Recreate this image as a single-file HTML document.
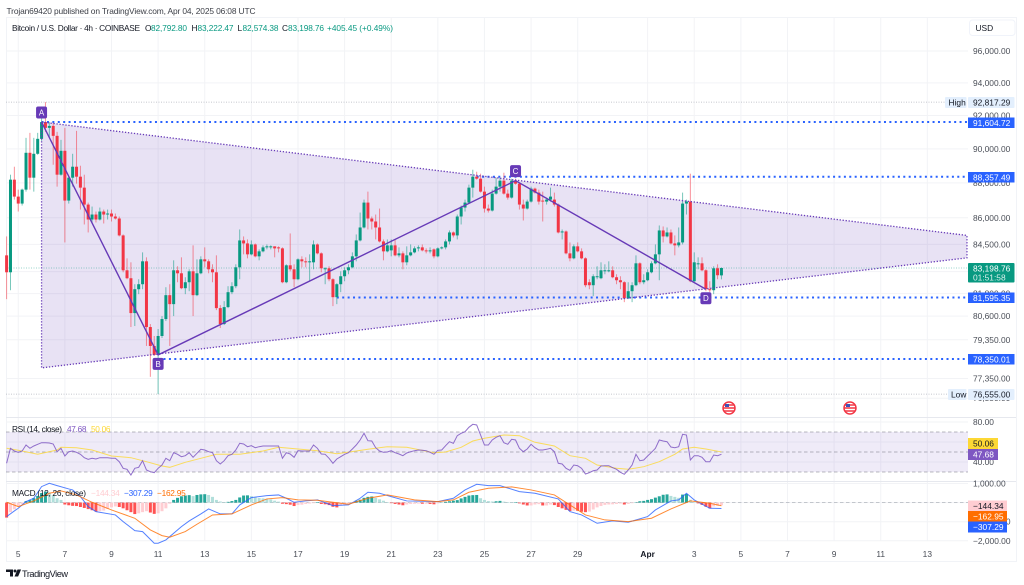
<!DOCTYPE html>
<html lang="en">
<head>
<meta charset="utf-8">
<title>Bitcoin / U.S. Dollar 4h chart</title>
<style>
html,body{margin:0;padding:0;background:#fff;width:1024px;height:585px;overflow:hidden}
svg{display:block;font-family:"Liberation Sans",sans-serif;filter:blur(0.3px)}
text{font-family:"Liberation Sans",sans-serif}
</style>
</head>
<body>
<svg id="chart" xmlns="http://www.w3.org/2000/svg" width="1024" height="585" viewBox="0 0 1024 585">
  <rect width="1024" height="585" fill="#ffffff"/>
  <rect x="6.5" y="17.5" width="1010" height="544" fill="none" stroke="#f1f3f7"/>
  <g id="grid"></g>
  <rect x="6" y="432" width="962" height="40" fill="#7e57c2" fill-opacity="0.12"/>
  <g id="pattern-fill"></g>
  <g id="levels"></g>
  <g id="candles"></g>
  <g id="pattern-lines"></g>
  <g id="rsi"></g>
  <g id="macd"></g>
  <g id="axis"></g>

  <g>
    <circle cx="729" cy="408" r="6" fill="#fff" stroke="#f23645" stroke-width="1.5"/>
    <path d="M724 405h10M723.5 408h11M724 411h10" stroke="#f23645" stroke-width="1.4"/>
    <rect x="725" y="404" width="4" height="3" fill="#3f51b5"/>
  </g>
  <g>
    <circle cx="850" cy="408" r="6" fill="#fff" stroke="#f23645" stroke-width="1.5"/>
    <path d="M845 405h10M844.5 408h11M845 411h10" stroke="#f23645" stroke-width="1.4"/>
    <rect x="846" y="404" width="4" height="3" fill="#3f51b5"/>
  </g>

  <text x="6.5" y="14" font-size="8.4" fill="#3c3f47" textLength="249" lengthAdjust="spacing">Trojan69420 published on TradingView.com, Apr 04, 2025 06:08 UTC</text>
  <g font-size="8.3" fill="#131722">
    <text x="12" y="31" textLength="128" lengthAdjust="spacing">Bitcoin / U.S. Dollar · 4h · COINBASE</text>
    <text x="145" y="31">O</text>
    <text x="151" y="31" fill="#089981" textLength="36">82,792.80</text>
    <text x="191.5" y="31">H</text>
    <text x="197.5" y="31" fill="#089981" textLength="36">83,222.47</text>
    <text x="237.5" y="31">L</text>
    <text x="242.5" y="31" fill="#089981" textLength="36">82,574.38</text>
    <text x="282" y="31">C</text>
    <text x="288" y="31" fill="#089981" textLength="36">83,198.76</text>
    <text x="327" y="31" fill="#089981" textLength="66">+405.45 (+0.49%)</text>
  </g>
  <g font-size="8.3">
    <text x="12" y="432" fill="#131722" textLength="50">RSI (14, close)</text>
    <text x="67" y="432" fill="#7e57c2" textLength="19.5">47.68</text>
    <text x="91" y="432" fill="#fdd835" textLength="19.5">50.06</text>
  </g>
  <g font-size="8.3">
    <text x="12" y="496" fill="#131722" textLength="74">MACD (12, 26, close)</text>
    <text x="91" y="496" fill="#ffcdd2" textLength="28.7">−144.34</text>
    <text x="124" y="496" fill="#2962ff" textLength="28.7">−307.29</text>
    <text x="157" y="496" fill="#ff6d00" textLength="28.7">−162.95</text>
  </g>

  <g>
    <rect x="969.5" y="20" width="45.5" height="15.5" rx="3" fill="#fff" stroke="#f0f3fa"/>
    <text x="975.5" y="31" font-size="8.4" fill="#131722">USD</text>
  </g>

  <g id="price-labels" font-size="8.4">
    <g>
      <rect x="945" y="97" width="21.5" height="11" rx="1" fill="#e3effd"/>
      <text x="948.5" y="105.5" fill="#131722">High</text>
      <rect x="968" y="97" width="46.5" height="11" rx="1" fill="#e3effd"/>
      <text x="973" y="105.5" fill="#131722">92,817.29</text>
    </g>
    <g>
      <rect x="968" y="117.5" width="46.5" height="10.5" fill="#2962ff"/>
      <text x="973" y="126" fill="#ffffff">91,604.72</text>
    </g>
    <g>
      <rect x="968" y="172" width="46.5" height="10.5" fill="#2962ff"/>
      <text x="973" y="180.5" fill="#ffffff">88,357.49</text>
    </g>
    <g>
      <rect x="968" y="263" width="46.5" height="19.5" rx="1" fill="#089981"/>
      <text x="973" y="271.5" fill="#ffffff">83,198.76</text>
      <text x="973" y="280.5" fill="#ffffff" fill-opacity="0.85">01:51:58</text>
    </g>
    <g>
      <rect x="968" y="292.5" width="46.5" height="10.5" fill="#2962ff"/>
      <text x="973" y="301" fill="#ffffff">81,595.35</text>
    </g>
    <g>
      <rect x="968" y="354" width="46.5" height="10.5" fill="#2962ff"/>
      <text x="973" y="362.5" fill="#ffffff">78,350.01</text>
    </g>
    <g>
      <rect x="948" y="389" width="18.5" height="11" rx="1" fill="#e3effd"/>
      <text x="951" y="397.5" fill="#131722">Low</text>
      <rect x="968" y="389" width="46.5" height="11" rx="1" fill="#e3effd"/>
      <text x="973" y="397.5" fill="#131722">76,555.00</text>
    </g>
    <g>
      <rect x="968" y="438" width="30" height="11" fill="#fdd835"/>
      <text x="973" y="446.5" fill="#131722">50.06</text>
    </g>
    <g>
      <rect x="968" y="449" width="30" height="11" fill="#7e57c2"/>
      <text x="973" y="457.5" fill="#ffffff">47.68</text>
    </g>
    <g>
      <rect x="968" y="500.5" width="39" height="10.5" fill="#ffcdd2"/>
      <text x="973" y="509" fill="#131722">−144.34</text>
    </g>
    <g>
      <rect x="968" y="511" width="39" height="10.5" fill="#ff6d00"/>
      <text x="973" y="519.5" fill="#ffffff">−162.95</text>
    </g>
    <g>
      <rect x="968" y="521.5" width="39" height="11" fill="#2962ff"/>
      <text x="973" y="530" fill="#ffffff">−307.29</text>
    </g>
  </g>

  <g>
    <path d="M6 569.5h7v7h-3v-4.5H6zM17.5 569.5h3.6l-3 7h-3.6z" fill="#131722"/>
    <circle cx="15" cy="571" r="1.5" fill="#131722"/>
    <text x="22" y="577" font-size="9.2" fill="#131722" textLength="46" lengthAdjust="spacing">TradingView</text>
  </g>
</svg>

<script>
const candleStepPx = 3.885;
const candleStartPx = 6.6;

const opens = [
83894,82962,88188,87209,86809,87611,89766,88304,89707,90596,
91604,91253,91373,90775,88479,89884,86980,88304,88945,88362,
87726,86752,85901,86184,85901,86354,86184,86241,86071,85958,
85004,83071,82637,80759,82041,82311,83564,80019,79027,78561,
79548,80441,81719,81237,83071,82907,82095,82419,83016,81719,
82907,83674,83564,83126,82962,81024,80177,81078,81880,82203,
83236,84724,84556,83949,84500,83839,84115,84337,84337,84393,
84337,84281,82419,83345,83126,82582,83674,83564,83509,83509,
84500,84004,83181,83181,82582,81611,82311,82745,83071,83236,
83839,84724,85451,86865,85958,85789,85451,84668,84115,84170,
84449,83894,84004,83509,83894,84059,84281,84337,84170,84115,
84225,83839,84281,84337,84668,85171,85004,86071,86581,86865,
87726,88362,88246,87496,86524,86410,87381,87784,88130,87381,
87152,88130,87957,86752,86524,86923,87669,87439,86980,86923,
87037,87037,86752,85171,85227,84004,83729,84393,84115,83729,
82419,82257,82745,82637,83071,83071,83071,82691,82528,82419,
81558,81933,82257,83454,82419,82528,82962,83454,83949,85283,
84948,85171,84556,84449,84612,86809,86923,82473,83454,83454,
83071,82041,81987,83181,82792.80];

const highs = [
84948,88479,88945,87611,87669,90655,90954,90655,90954,91915,
92817.29,91613,91553,91014,90536,91253,88362,89707,91073,89003,
88479,86865,86638,86354,86581,86467,86467,86467,86241,86071,
85059,83729,83509,82311,82582,84059,83784,80177,79548,79914,
80600,82149,82311,83619,83290,83784,82691,83126,84449,83674,
83839,84337,83674,83400,83894,81184,81397,82203,82419,83400,
85339,84948,84780,84724,84556,84225,84449,84500,84449,84393,
84393,84337,83400,85115,83400,83729,83839,83784,83949,84724,
84556,84059,83236,83290,82637,82365,83016,83236,83400,84059,
85059,86297,87037,87496,86071,86184,86524,84780,84780,84780,
84780,84337,84115,84393,84500,84393,84449,84500,84281,84337,
84281,84337,84393,84780,85283,85227,86184,86695,87037,87900,
88769,88652,88537,87784,86752,87611,88304,88304,88594,87611,
88246,88246,88014,87037,87037,87784,87726,87611,87496,87152,
87726,87439,86809,85339,85283,84612,84500,84612,84281,83784,
82582,82854,83290,83509,83400,83564,83290,82854,82745,82473,
82419,82419,83894,83509,82854,83126,83564,84500,85564,85508,
85451,85339,85004,85451,87439,87037,88537,84059,83784,83784,
83126,82473,83290,83400,83222.47];

const lows = [
81504,81987,87037,86354,86695,87496,87611,87496,89648,90477,
91014,90715,89061,87784,88420,84612,86809,87784,87957,86467,
85620,85171,85732,85732,85845,85676,85901,85789,85901,84948,
82962,82582,80019,80072,81773,82041,79027,77434,78510,76555,
79443,80335,79027,80600,82419,82041,81773,81933,80600,81665,
82854,83236,82907,82419,80918,79967,80124,81024,81773,82095,
82582,83949,83729,83894,83784,83619,84059,84225,84225,83784,
84059,82365,82365,83016,82149,82528,83236,83236,82473,83126,
83949,82962,82311,82473,81131,81237,81880,82473,82854,83181,
83564,84668,85395,85339,85339,84780,84612,83619,84059,83839,
83839,83784,83126,83345,83839,84004,84115,84115,84004,84004,
83729,83784,84225,84225,84500,84892,84780,85620,86354,86809,
87152,88188,87439,86297,86297,86354,87324,87496,87324,87037,
87094,87900,86467,85845,86467,86865,87381,86752,85789,86752,
86923,86638,85115,84780,83949,83564,83674,84059,83674,82149,
82041,81665,82582,82582,82854,82962,82637,82311,82041,81344,
81504,81344,82203,82311,82311,82473,82907,83400,82528,84612,
84892,84500,83894,84337,84500,86184,82419,82419,83126,83016,
81933,81880,81773,82582,82574.38];

const closes = [
82962,88188,87209,86809,87611,89766,88304,89707,90596,91604,
91253,91373,90775,88479,89884,86980,88304,88945,88362,87726,
86752,85901,86184,85901,86354,86184,86241,86071,85958,85004,
83071,82637,80759,82041,82311,83564,80019,79027,78561,79548,
80441,81719,81237,83071,82907,82095,82419,83016,81719,82907,
83674,83564,83126,82962,81024,80177,81078,81880,82203,83236,
84724,84556,83949,84500,83839,84115,84337,84393,84393,84281,
84281,82419,83345,83126,82582,83674,83564,83509,83564,84500,
84004,83181,83181,82582,81611,82311,82745,83071,83236,83839,
84724,85451,86865,85958,85789,85451,84668,84115,84449,84449,
83894,84004,83509,83894,84059,84281,84337,84170,84115,84170,
83839,84281,84337,84668,85171,85004,86071,86581,86865,87726,
88362,88246,87496,86524,86410,87381,87784,88130,87381,87152,
88130,87957,86752,86524,86923,87669,87439,86923,86923,87037,
87209,86752,85171,85227,84004,83729,84393,84115,83729,82257,
82257,82745,82745,83071,83071,83071,82691,82528,82419,81558,
81933,82257,83454,82419,82528,82962,83454,83949,85283,84948,
85171,84556,84449,84612,86809,86923,82473,83509,83454,83071,
82041,81987,83181,82800,83198.76];

const rsiValues = [
38.7,53.7,51,49.7,51,57,53.7,56,57.7,59.3,
59.3,59,58,50.3,53.7,46,50.3,51,49.7,47.7,
44.3,42.7,43.7,43,44.3,44.3,44.3,43.7,43.7,40.3,
33.7,32.7,27,33.7,34.7,41.3,32,30.3,29.3,33.7,
37,43.7,41.3,49.3,47.7,45.3,46.3,49.3,44.7,48.7,
52.7,52,50.3,49.3,41.3,38,41.3,46.3,47.7,52,
58.7,58,55.3,56.3,54.3,55.3,56,56,56,56,
56,43.7,49.3,48,44.7,51.3,51,51,51,57,
53.7,48,47.7,43.7,38.7,43,45.3,47.7,49.3,53,
57,62,68.7,61.3,61,54.3,51,49.7,50,51.3,
49.3,48,46.3,49,50.3,51.3,52,51.7,51.3,49.7,
47.7,51.7,52,56.3,60.3,58.7,66.3,68.7,70.3,74.7,
77.7,77,67,57,57,62,64.7,66.3,59.3,57.7,
62.7,62,53.7,50.3,53,57.7,54.3,52,52,52.7,
53.7,50.3,38.7,38,33.7,31.7,37,36.3,33.7,28,
29.3,31.3,32,36,36.3,36.3,34.3,32.7,29.7,27.7,
32,37,47.7,41.3,42,46,49.7,53.7,62,61,
60.3,55,54.3,55.3,67.7,67,42,46.3,46.3,44.7,
40.3,40.3,47,46.3,47.68];

const rsiMaCandle = [0,3,8,13,14,18,22,27,32,36,40,42,46,50,54,60,66,70,75,80,85,90,93,98,103,110,113,117,120,123,128,132,136,141,145,149,152,157,160,164,168,172,174,177,180,184];
const rsiMaValues = [53.7,51.7,47.7,52,54.7,54.3,52,46,44.3,40.3,36,34.7,39.7,43.7,47.7,47.7,51,54.7,53,51.3,48.3,51,52.7,55.3,54.7,49.3,50,54.7,61,63.7,67,66.3,59.7,56,46.3,43.7,37,33.7,32.7,35.3,40.3,47.7,53,54.7,53,50.06];

const macdCandle = [0,2,3,5,7,9,11,13,16,17,19,21,23,28,30,33,35,38,39,41,45,47,50,52,55,58,60,63,67,70,72,74,77,80,84,88,91,93,96,99,103,111,115,118,121,124,127,132,136,142,145,148,152,156,160,165,167,171,173,175,177,181,184];
const macdValues = [-733,-436,-297,52,227,838,1012,890,715,663,314,-209,-471,-646,-995,-1466,-1518,-2129,-2129,-1954,-1256,-960,-593,-332,-593,-593,-122,262,366,401,227,17,87,140,-157,-122,227,541,489,314,87,52,227,663,960,890,890,576,489,192,-471,-646,-1082,-960,-1030,-733,-384,87,140,489,140,-297,-307.29];

const signalCandle = [0,3,7,11,14,18,22,27,33,37,40,42,46,49,53,58,63,67,71,75,80,84,88,93,98,105,111,115,119,124,130,135,141,145,149,154,160,166,171,176,181,184];
const signalValues = [17,-209,87,489,611,401,17,-384,-820,-1431,-1728,-1815,-1518,-1134,-646,-593,-122,192,262,140,122,17,-87,227,401,140,52,140,541,750,820,663,401,-122,-646,-907,-995,-820,-332,87,-35,-162.95];

const histValues = [
-785,-500,-350,-200,-80,80,130,230,350,500,
570,530,400,230,140,-100,-140,-170,-180,-230,
-280,-340,-400,-470,-450,-420,-330,-250,-200,-230,
-300,-400,-500,-600,-560,-500,-450,-520,-590,-560,
-450,-300,-60,140,250,330,370,390,340,400,
430,440,400,300,140,60,30,40,80,140,
270,370,380,340,280,240,220,200,170,100,
50,-60,-80,-110,-180,-130,-110,-70,-50,-30,
30,-70,-90,-130,-220,-250,-150,-110,-60,-30,
100,150,250,300,320,250,170,100,30,-30,
-70,-100,-140,-100,-70,-60,-50,-60,-60,-70,
-90,-40,10,40,70,100,130,220,300,370,
390,400,230,140,80,60,70,90,50,30,
20,25,-40,-100,-150,-150,-100,-80,-150,-150,
-100,-130,-230,-300,-380,-440,-420,-430,-480,-500,
-470,-360,-250,-180,-120,-100,-90,-70,-50,-100,
-70,-30,20,70,90,140,180,260,330,410,
430,350,300,250,420,450,150,30,-40,-120,
-220,-300,-200,-170,-144.34];

const priceTicks = [96000,94000,92000,90000,88000,86000,84500,83000,81800,80600,79350,77350,76350];
const rsiTicks = [80,60,40];
const macdTicks = [1000,0,-1000,-2000];
const timeTickCandle = [3,15,27,39,51,63,75,87,99,111,123,135,147,165,177,189,201,213,225,237];
const timeTickLabels = ["5","7","9","11","13","15","17","19","21","23","25","27","29","Apr","3","5","7","9","11","13"];

const patternCandle = [9,39,131,180];
const patternPrices = [91604.72,78561,88130,82041];
const patternNames = ["A","B","C","D"];
const triangleCandle = [9,247.2,247.2,9];
const trianglePrices = [91604.72,85004,83756,77893];
const levelPrices = [91604.72,88357.49,81595.35,78350.01];
const levelStartCandle = [9,121,85,39];
const highPrice = 92817.29;
const lowPrice = 76555;
const lastPrice = 83198.76;

const NS = "http://www.w3.org/2000/svg";
const AXIS_FONT = 8.4;
function make(tag, attrs, parent) {
  const node = document.createElementNS(NS, tag);
  for (const k in attrs) node.setAttribute(k, attrs[k]);
  parent.appendChild(node);
  return node;
}
function xAt(i) { return candleStartPx + candleStepPx * i; }
function yPrice(p) { return 51 + 1516 * Math.log(96000 / p); }
function yRsi(v) { return 502 - v; }
function yMacd(v) { return 502.6 - 0.0191 * v; }
function fmt(v) {
  const s = Math.abs(v).toLocaleString("en-US", {minimumFractionDigits: 2, maximumFractionDigits: 2});
  return (v < 0 ? "\u2212" : "") + s;
}

const grid = document.getElementById("grid");
const axis = document.getElementById("axis");
const PLOT_R = 968;

timeTickCandle.forEach(function (c, idx) {
  const x = xAt(c);
  const gl = make("line", {x1: x, x2: x, y1: 17, y2: 541, stroke: "#f2f3f6", "stroke-width": 1}, grid);
  
  
  const lbl = make("text", {x: x, y: 557, "font-size": AXIS_FONT, "text-anchor": "middle", fill: timeTickLabels[idx] === "Apr" ? "#131722" : "#4a4e57", "font-weight": timeTickLabels[idx] === "Apr" ? "bold" : "normal"}, axis);
  
  
  lbl.textContent = timeTickLabels[idx];
});

priceTicks.forEach(function (p) {
  const y = yPrice(p);
  const gl = make("line", {x1: 6, x2: PLOT_R, y1: y, y2: y, stroke: "#f2f3f6", "stroke-width": 1}, grid);
  
  
  const lbl = make("text", {x: 973, y: y + 3, "font-size": AXIS_FONT, fill: "#4a4e57"}, axis);
  
  
  lbl.textContent = fmt(p);
});
rsiTicks.forEach(function (v) {
  const y = yRsi(v);
  const gl = make("line", {x1: 6, x2: PLOT_R, y1: y, y2: y, stroke: "#f2f3f6", "stroke-width": 1}, grid);
  
  
  const lbl = make("text", {x: 973, y: y + 3, "font-size": AXIS_FONT, fill: "#4a4e57"}, axis);
  
  
  lbl.textContent = fmt(v);
});
macdTicks.forEach(function (v) {
  const y = yMacd(v);
  const gl = make("line", {x1: 6, x2: PLOT_R, y1: y, y2: y, stroke: "#f2f3f6", "stroke-width": 1}, grid);
  
  
  if (v !== 0) {
    const lbl = make("text", {x: 973, y: y + 3, "font-size": AXIS_FONT, fill: "#4a4e57"}, axis);
    
    
    lbl.textContent = fmt(v);
  }
});
[417.5, 481.5].forEach(function (y) {
  const sep = make("line", {x1: 6, x2: 1016, y1: y, y2: y, stroke: "#e6e8ee", "stroke-width": 1}, grid);
  
  
});

/* pattern fill */
const fillLayer = document.getElementById("pattern-fill");
const tri = make("polygon", {
  points: triangleCandle.map(function (c, k) { return xAt(c) + "," + yPrice(trianglePrices[k]); }).join(" "),
  fill: "#673ab7", "fill-opacity": 0.15
}, fillLayer);



/* level lines */
const levels = document.getElementById("levels");
const hi = make("line", {x1: 6, x2: 945, y1: yPrice(highPrice), y2: yPrice(highPrice), stroke: "#b2b5be", "stroke-width": 0.8, "stroke-dasharray": "1 1.5"}, levels);


const lo = make("line", {x1: 6, x2: 948, y1: yPrice(lowPrice), y2: yPrice(lowPrice), stroke: "#b2b5be", "stroke-width": 0.8, "stroke-dasharray": "1 1.5"}, levels);


const lastLine = make("line", {x1: 6, x2: PLOT_R, y1: yPrice(lastPrice), y2: yPrice(lastPrice), stroke: "#089981", "stroke-opacity": 0.55, "stroke-width": 0.8, "stroke-dasharray": "1 1.5"}, levels);


levelPrices.forEach(function (p, k) {
  const y = yPrice(p);
  const l = make("line", {x1: xAt(levelStartCandle[k]), x2: PLOT_R, y1: y, y2: y, stroke: "#2962ff", "stroke-width": 2, "stroke-dasharray": "2 3.4"}, levels);
  
  
});

/* candles */
const candleLayer = document.getElementById("candles");
closes.forEach(function (c, i) {
  const o = opens[i];
  const up = c >= o;
  const color = up ? "#089981" : "#f23645";
  const x = xAt(i);
  const g = make("g", {}, candleLayer);
  
  
  const wick = make("line", {x1: x, x2: x, y1: yPrice(highs[i]), y2: yPrice(lows[i]), stroke: color, "stroke-opacity": 0.55, "stroke-width": 1}, g);
  
  
  const top = Math.min(yPrice(o), yPrice(c));
  const h = Math.max(1, Math.abs(yPrice(o) - yPrice(c)));
  const body = make("rect", {x: x - 1.5, y: top, width: 3, height: h, fill: color}, g);
  
  
});

/* pattern lines */
const patLayer = document.getElementById("pattern-lines");
const edge = make("polygon", {
  points: triangleCandle.map(function (c, k) { return xAt(c) + "," + yPrice(trianglePrices[k]); }).join(" "),
  fill: "none", stroke: "#673ab7", "stroke-width": 1.3, "stroke-dasharray": "1.3 1.7"
}, patLayer);


const abcd = make("polyline", {
  points: patternCandle.map(function (c, k) { return xAt(c) + "," + yPrice(patternPrices[k]); }).join(" "),
  fill: "none", stroke: "#673ab7", "stroke-width": 1.4
}, patLayer);


patternCandle.forEach(function (c, k) {
  const x = xAt(c);
  const below = k % 2 === 1;
  const y = yPrice(patternPrices[k]) + (below ? 9 : -9.5);
  const g = make("g", {}, patLayer);
  
  
  const r = make("rect", {x: x - 5.5, y: y - 6, width: 11, height: 12, rx: 2, fill: "#673ab7"}, g);
  
  
  const t = make("text", {x: x, y: y + 3, "font-size": 8, "text-anchor": "middle", fill: "#ffffff"}, g);
  
  
  t.textContent = patternNames[k];
});

/* RSI */
const rsiLayer = document.getElementById("rsi");
[70, 50, 30].forEach(function (v) {
  const l = make("line", {x1: 6, x2: PLOT_R, y1: yRsi(v), y2: yRsi(v), stroke: "#787b86", "stroke-opacity": 0.7, "stroke-width": 0.8, "stroke-dasharray": "3.5 2.5"}, rsiLayer);
  
  
});
const rsiMa = make("polyline", {
  points: rsiMaCandle.map(function (c, k) { return xAt(c) + "," + yRsi(rsiMaValues[k]); }).join(" "),
  fill: "none", stroke: "#fdd835", "stroke-opacity": 0.8, "stroke-width": 1
}, rsiLayer);


const rsiLine = make("polyline", {
  points: rsiValues.map(function (v, i) { return xAt(i) + "," + yRsi(v); }).join(" "),
  fill: "none", stroke: "#7e57c2", "stroke-opacity": 0.85, "stroke-width": 1
}, rsiLayer);



/* MACD */
const macdLayer = document.getElementById("macd");
const zeroLine = make("line", {x1: 6, x2: PLOT_R, y1: yMacd(0), y2: yMacd(0), stroke: "#b2b5be", "stroke-width": 0.8, "stroke-dasharray": "3.5 2.5"}, macdLayer);


histValues.forEach(function (v, i) {
  const prev = i > 0 ? histValues[i - 1] : 0;
  let color;
  if (v >= 0) { color = v > prev ? "#26a69a" : "#b2dfdb"; }
  else { color = v < prev ? "#ff5252" : "#ffcdd2"; }
  const y0 = yMacd(0), y1 = yMacd(v);
  const bar = make("rect", {x: xAt(i) - 1.5, y: Math.min(y0, y1), width: 3, height: Math.abs(y1 - y0), fill: color}, macdLayer);
  
  
});
const macdLine = make("polyline", {
  points: macdCandle.map(function (c, k) { return xAt(c) + "," + yMacd(macdValues[k]); }).join(" "),
  fill: "none", stroke: "#2962ff", "stroke-opacity": 0.8, "stroke-width": 1
}, macdLayer);


const signalLine = make("polyline", {
  points: signalCandle.map(function (c, k) { return xAt(c) + "," + yMacd(signalValues[k]); }).join(" "),
  fill: "none", stroke: "#ff6d00", "stroke-opacity": 0.8, "stroke-width": 1
}, macdLayer);


</script>
</body>
</html>
